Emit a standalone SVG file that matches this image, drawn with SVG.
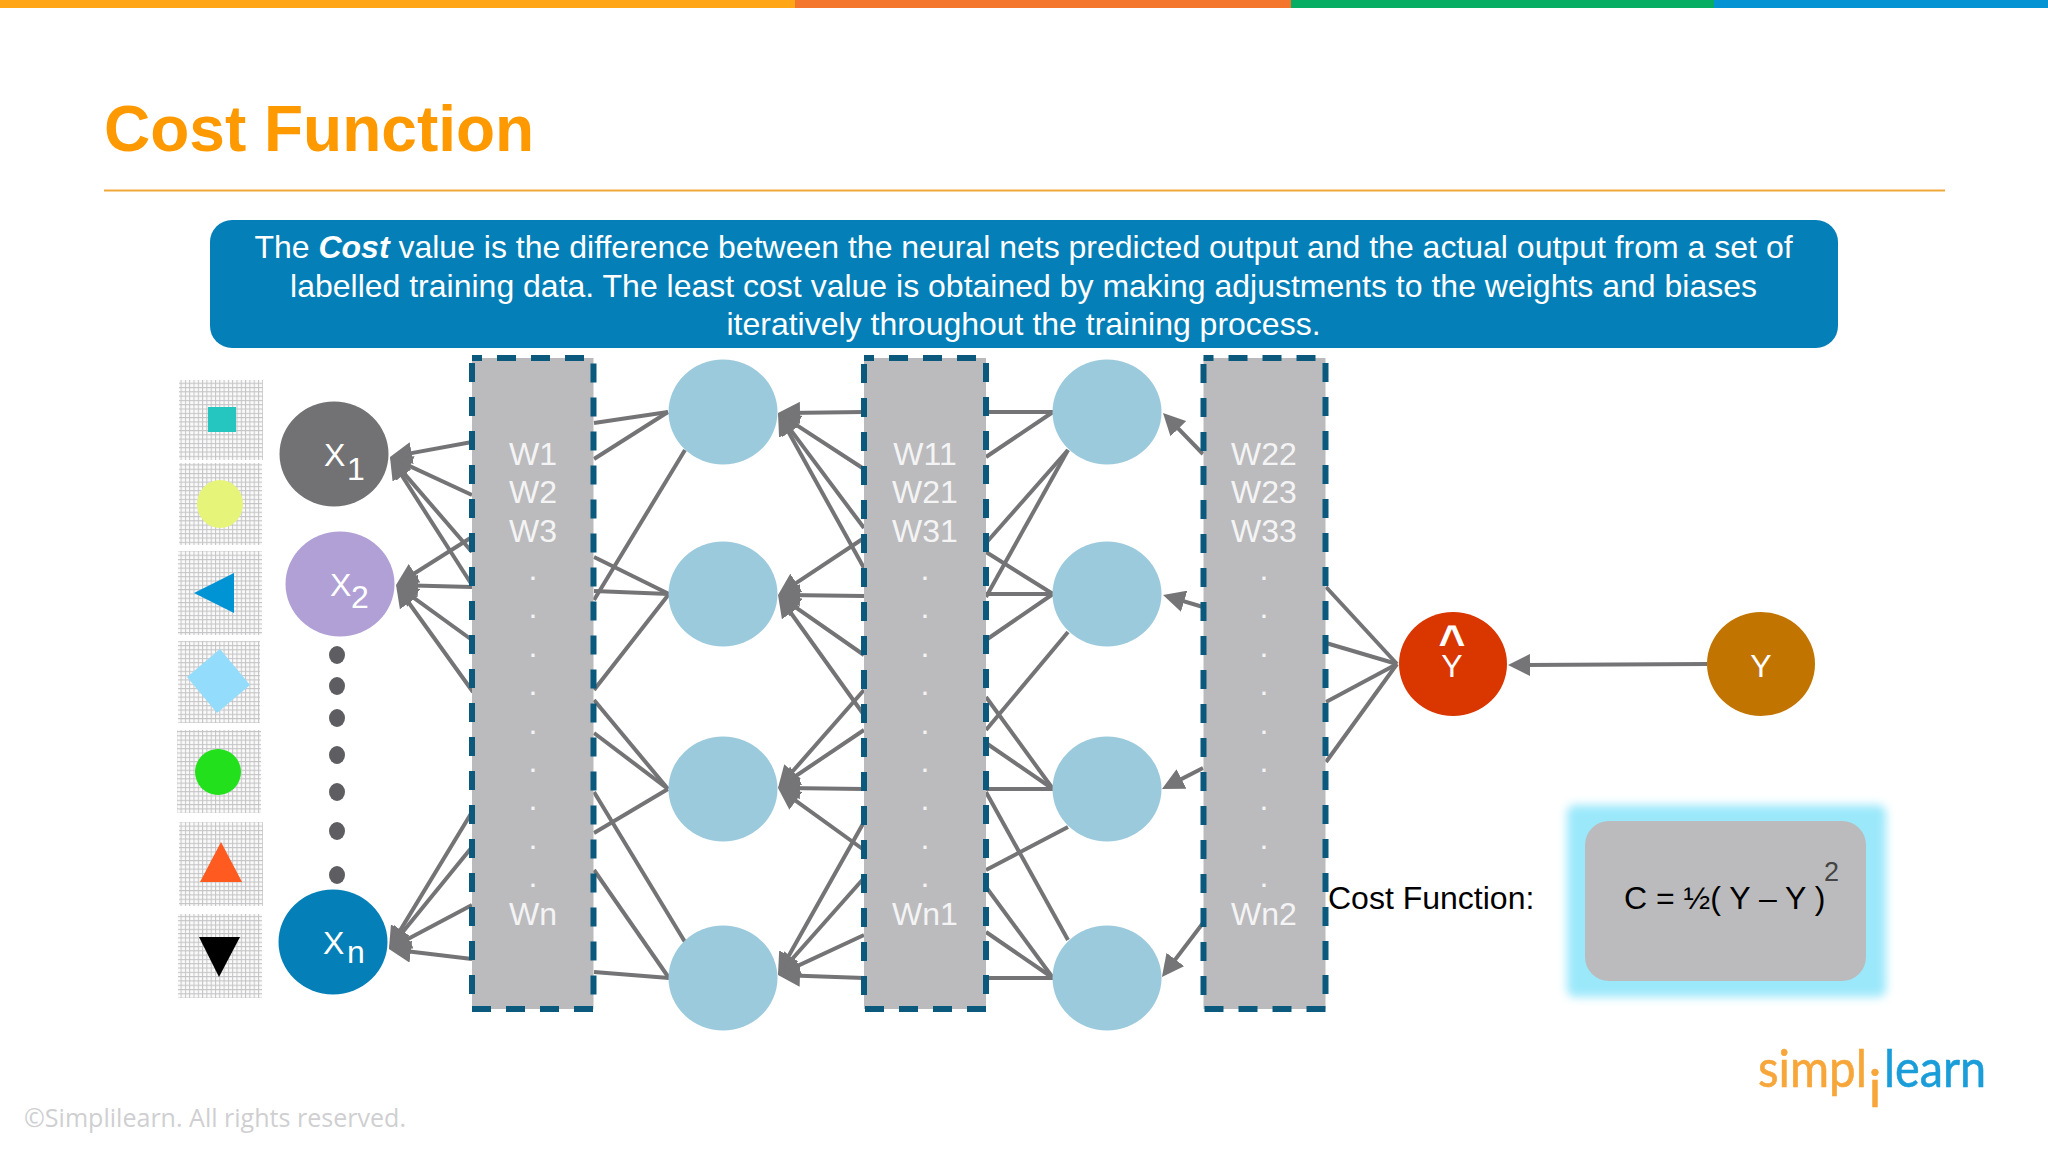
<svg xmlns="http://www.w3.org/2000/svg" width="2048" height="1152" viewBox="0 0 2048 1152">
<style>
text{font-family:"Liberation Sans",Arial,sans-serif}
.c line{stroke:#747476;stroke-width:4;fill:none}
.a line{marker-end:url(#arrow)}
.w{fill:#f4f4f5;font-size:32px;text-anchor:middle}
.box{fill:#bbbbbd;stroke:#0b5a7e;stroke-width:6;stroke-dasharray:19 15;stroke-dashoffset:9}
.hid{fill:#9ccadd}
.tile{fill:url(#grid)}
.lbl{fill:#fff;font-size:32px}
.dot{fill:#5d5d62}
.ban{fill:#fff;font-size:32px;text-anchor:middle}
</style>
<defs>
<marker id="arrow" markerUnits="userSpaceOnUse" markerWidth="22" markerHeight="22" viewBox="0 0 22 22" refX="14" refY="11" orient="auto"><path d="M0 0L22 11L0 22Z" fill="#757577"/></marker>
<pattern id="grid" patternUnits="userSpaceOnUse" width="4.3" height="4.3"><rect width="4.3" height="4.3" fill="#fafafa"/><path d="M0 .5H4.3M.5 0V4.3" stroke="#c4c4c6" stroke-width="1" fill="none"/></pattern>
<filter id="glow" x="-10%" y="-10%" width="120%" height="120%"><feGaussianBlur stdDeviation="5"/></filter>
</defs>
<rect width="2048" height="1152" fill="#fff"/>
<g id="top-bar">
<rect x="0" y="0" width="795" height="8" fill="#ffa516"/>
<rect x="795" y="0" width="496" height="8" fill="#f4762c"/>
<rect x="1291" y="0" width="423" height="8" fill="#07ad62"/>
<rect x="1714" y="0" width="334" height="8" fill="#0693d4"/>
</g>
<g id="title">
<text x="104" y="150.500" font-size="64" font-weight="700" fill="#ff9900">Cost Function</text>
<rect x="104" y="189.500" width="1841" height="2" fill="#f2a73a"/>
</g>
<g id="banner">
<rect x="210" y="220" width="1628" height="128" rx="22" fill="#057fb7"/>
<text class="ban" x="1023.500" y="258">The <tspan font-weight="700" font-style="italic">Cost</tspan> value is the difference between the neural nets predicted output and the actual output from a set of</text>
<text class="ban" x="1023.500" y="296.500">labelled training data. The least cost value is obtained by making adjustments to the weights and biases</text>
<text class="ban" x="1023.500" y="335">iteratively throughout the training process.</text>
</g>
<g id="tile-square"><rect class="tile" x="179" y="380" width="84" height="80"/><rect x="208" y="407" width="28" height="25" fill="#26c6c0"/></g>
<g id="tile-circle"><rect class="tile" x="179" y="463" width="83" height="82"/><ellipse cx="220" cy="504" rx="23" ry="24" fill="#e6f47a"/></g>
<g id="tile-left"><rect class="tile" x="178" y="551" width="84" height="84"/><polygon points="194,593 234,573 234,613" fill="#0094d4"/></g>
<g id="tile-diamond"><rect class="tile" x="178" y="641" width="82" height="82"/><polygon points="220,649 250,685 217,713 187,677" fill="#94dcfb"/></g>
<g id="tile-green"><rect class="tile" x="177" y="730" width="84" height="83"/><circle cx="218" cy="772" r="23" fill="#22e01c"/></g>
<g id="tile-up"><rect class="tile" x="179" y="822" width="84" height="84"/><polygon points="221,842 242,882 200,882" fill="#ff5a1f"/></g>
<g id="tile-down"><rect class="tile" x="178" y="914" width="84" height="84"/><polygon points="199,937 240,937 219,977" fill="#000"/></g>
<g id="connectors" class="c">
<g class="a">
<line x1="472" y1="442" x2="397.900" y2="455.600"/>
<line x1="472" y1="495" x2="397.300" y2="460.400"/>
<line x1="472" y1="552" x2="395.200" y2="463.100"/>
<line x1="472" y1="585" x2="394.300" y2="463.700"/>
<line x1="472" y1="537" x2="402.800" y2="580.700"/>
<line x1="472" y1="587" x2="404" y2="585.200"/>
<line x1="472" y1="640" x2="402.500" y2="589.700"/>
<line x1="473" y1="692" x2="400.700" y2="591.500"/>
<line x1="472" y1="812" x2="393.100" y2="942.100"/>
<line x1="472" y1="847" x2="394" y2="942.800"/>
<line x1="472" y1="905" x2="396.100" y2="945.300"/>
<line x1="472" y1="959" x2="396.900" y2="950"/>
<line x1="864" y1="412" x2="786" y2="413"/>
<line x1="864" y1="469" x2="784.700" y2="417.400"/>
<line x1="864" y1="528" x2="782.800" y2="419.400"/>
<line x1="864" y1="568" x2="781.900" y2="420"/>
<line x1="864" y1="538" x2="784.700" y2="590.600"/>
<line x1="864" y1="596" x2="786" y2="595"/>
<line x1="864" y1="655" x2="784.600" y2="599.600"/>
<line x1="864" y1="715" x2="782.700" y2="601.500"/>
<line x1="864" y1="690" x2="783.300" y2="782"/>
<line x1="864" y1="730" x2="784.600" y2="783.500"/>
<line x1="864" y1="789" x2="786" y2="788"/>
<line x1="864" y1="850" x2="784.500" y2="792.700"/>
<line x1="864" y1="822" x2="781.900" y2="968"/>
<line x1="864" y1="878" x2="783.300" y2="969"/>
<line x1="864" y1="935" x2="785.300" y2="971.600"/>
<line x1="864" y1="978" x2="786" y2="975.300"/>
<line x1="1203" y1="454" x2="1168.600" y2="418.700"/>
<line x1="1203" y1="607" x2="1170.700" y2="597.300"/>
<line x1="1203" y1="768" x2="1169.100" y2="785.400"/>
<line x1="1203" y1="923" x2="1166.800" y2="970.600"/>
<line x1="1707" y1="664" x2="1516" y2="665"/>
</g>
<line x1="594" y1="423" x2="668" y2="412"/>
<line x1="594" y1="459" x2="668" y2="412"/>
<line x1="594" y1="600" x2="685" y2="450"/>
<line x1="594" y1="557" x2="669" y2="594"/>
<line x1="594" y1="591" x2="669" y2="594"/>
<line x1="594" y1="690" x2="669" y2="594"/>
<line x1="594" y1="700" x2="668" y2="789"/>
<line x1="594" y1="733" x2="668" y2="789"/>
<line x1="594" y1="833" x2="668" y2="789"/>
<line x1="594" y1="792" x2="685" y2="942"/>
<line x1="594" y1="870" x2="669" y2="978"/>
<line x1="594" y1="972" x2="669" y2="978"/>
<line x1="986" y1="412" x2="1053" y2="412"/>
<line x1="986" y1="457" x2="1053" y2="412"/>
<line x1="986" y1="543" x2="1068" y2="450"/>
<line x1="986" y1="597" x2="1068" y2="450"/>
<line x1="986" y1="552" x2="1053" y2="594"/>
<line x1="986" y1="594" x2="1053" y2="594"/>
<line x1="986" y1="640" x2="1053" y2="594"/>
<line x1="986" y1="730" x2="1068" y2="632"/>
<line x1="986" y1="697" x2="1053" y2="789"/>
<line x1="986" y1="743" x2="1053" y2="789"/>
<line x1="986" y1="789" x2="1053" y2="789"/>
<line x1="986" y1="870" x2="1068" y2="827"/>
<line x1="986" y1="792" x2="1068" y2="940"/>
<line x1="986" y1="887" x2="1053" y2="978"/>
<line x1="986" y1="932" x2="1053" y2="978"/>
<line x1="986" y1="978" x2="1053" y2="978"/>
<line x1="1326" y1="587" x2="1397" y2="664"/>
<line x1="1326" y1="643" x2="1397" y2="664"/>
<line x1="1326" y1="702" x2="1397" y2="664"/>
<line x1="1326" y1="762" x2="1397" y2="664"/>
</g>
<g id="x1"><ellipse cx="334" cy="454" rx="54.500" ry="52.500" fill="#727274"/><text class="lbl" x="324" y="466">X</text><text class="lbl" x="347" y="480">1</text></g>
<g id="x2"><ellipse cx="340" cy="584" rx="54.500" ry="52.500" fill="#b0a0d6"/><text class="lbl" x="330" y="596">X</text><text class="lbl" x="351" y="608">2</text></g>
<g id="ellipsis">
<ellipse class="dot" cx="337" cy="655" rx="8" ry="9"/><ellipse class="dot" cx="337" cy="686" rx="8" ry="9"/><ellipse class="dot" cx="337" cy="718" rx="8" ry="9"/><ellipse class="dot" cx="337" cy="755" rx="8" ry="9"/><ellipse class="dot" cx="337" cy="792" rx="8" ry="9"/><ellipse class="dot" cx="337" cy="831" rx="8" ry="9"/><ellipse class="dot" cx="337" cy="875" rx="8" ry="9"/>
</g>
<g id="xn"><ellipse cx="333" cy="942" rx="54.500" ry="52.500" fill="#057fb7"/><text class="lbl" x="323" y="954">X</text><text class="lbl" x="347" y="963">n</text></g>
<g id="weights-1"><rect class="box" x="472" y="358" width="121.500" height="651"/>
<text class="w" x="533" y="465">W1</text><text class="w" x="533" y="503">W2</text><text class="w" x="533" y="542">W3</text>
<text class="w" x="533" y="580">.</text><text class="w" x="533" y="618">.</text><text class="w" x="533" y="657">.</text><text class="w" x="533" y="695">.</text><text class="w" x="533" y="734">.</text><text class="w" x="533" y="772">.</text><text class="w" x="533" y="810">.</text><text class="w" x="533" y="849">.</text><text class="w" x="533" y="887">.</text>
<text class="w" x="533" y="925">Wn</text></g>
<g id="weights-2"><rect class="box" x="864" y="358" width="122" height="651"/>
<text class="w" x="925" y="465">W11</text><text class="w" x="925" y="503">W21</text><text class="w" x="925" y="542">W31</text>
<text class="w" x="925" y="580">.</text><text class="w" x="925" y="618">.</text><text class="w" x="925" y="657">.</text><text class="w" x="925" y="695">.</text><text class="w" x="925" y="734">.</text><text class="w" x="925" y="772">.</text><text class="w" x="925" y="810">.</text><text class="w" x="925" y="849">.</text><text class="w" x="925" y="887">.</text>
<text class="w" x="925" y="925">Wn1</text></g>
<g id="weights-3"><rect class="box" x="1203.500" y="358" width="122" height="651"/>
<text class="w" x="1264" y="465">W22</text><text class="w" x="1264" y="503">W23</text><text class="w" x="1264" y="542">W33</text>
<text class="w" x="1264" y="580">.</text><text class="w" x="1264" y="618">.</text><text class="w" x="1264" y="657">.</text><text class="w" x="1264" y="695">.</text><text class="w" x="1264" y="734">.</text><text class="w" x="1264" y="772">.</text><text class="w" x="1264" y="810">.</text><text class="w" x="1264" y="849">.</text><text class="w" x="1264" y="887">.</text>
<text class="w" x="1264" y="925">Wn2</text></g>
<g id="h1-1"><ellipse class="hid" cx="723" cy="412" rx="54.500" ry="52.500"/></g>
<g id="h1-2"><ellipse class="hid" cx="723" cy="594" rx="54.500" ry="52.500"/></g>
<g id="h1-3"><ellipse class="hid" cx="723" cy="789" rx="54.500" ry="52.500"/></g>
<g id="h1-4"><ellipse class="hid" cx="723" cy="978" rx="54.500" ry="52.500"/></g>
<g id="h2-1"><ellipse class="hid" cx="1107" cy="412" rx="54.500" ry="52.500"/></g>
<g id="h2-2"><ellipse class="hid" cx="1107" cy="594" rx="54.500" ry="52.500"/></g>
<g id="h2-3"><ellipse class="hid" cx="1107" cy="789" rx="54.500" ry="52.500"/></g>
<g id="h2-4"><ellipse class="hid" cx="1107" cy="978" rx="54.500" ry="52.500"/></g>
<g id="y-hat"><ellipse cx="1453" cy="664" rx="54" ry="52" fill="#d93600"/><text class="lbl" x="1452" y="677" text-anchor="middle">Y</text><text class="lbl" x="1452" y="657.500" text-anchor="middle" font-weight="700" style="font-size:46px">^</text></g>
<g id="y"><ellipse cx="1761" cy="664" rx="54" ry="52" fill="#c27400"/><text class="lbl" x="1761" y="677" text-anchor="middle">Y</text></g>
<g id="cost-label"><text x="1328" y="909" font-size="32" fill="#000">Cost Function:</text></g>
<g id="formula">
<rect x="1567" y="805" width="319" height="192" rx="8" fill="#9be8fb" filter="url(#glow)"/>
<rect x="1585" y="821" width="281" height="160" rx="24" fill="#bbbbbd"/>
<text x="1624" y="909" font-size="32" fill="#000">C = ½( Y – Y )</text>
<text x="1824" y="881" font-size="27" fill="#444">2</text>
</g>
<g id="logo" font-size="52">
<text x="1758" y="1087" textLength="109" lengthAdjust="spacingAndGlyphs" stroke="#f7a63a" stroke-width=".6" style="font-family:Lato,sans-serif" fill="#f7a63a">simpl</text>
<text x="1875" y="1107" text-anchor="middle" stroke="#f7a63a" stroke-width=".6" style="font-family:Lato,sans-serif" fill="#f7a63a">i</text>
<text x="1884" y="1087" textLength="102" lengthAdjust="spacingAndGlyphs" stroke="#1a9dd9" stroke-width=".6" style="font-family:Lato,sans-serif" fill="#1a9dd9">learn</text>
</g>
<text x="24" y="1127" font-size="26" textLength="382" lengthAdjust="spacingAndGlyphs" style="font-family:'Open Sans',sans-serif" fill="#cfcfd2">©Simplilearn. All rights reserved.</text>
</svg>
